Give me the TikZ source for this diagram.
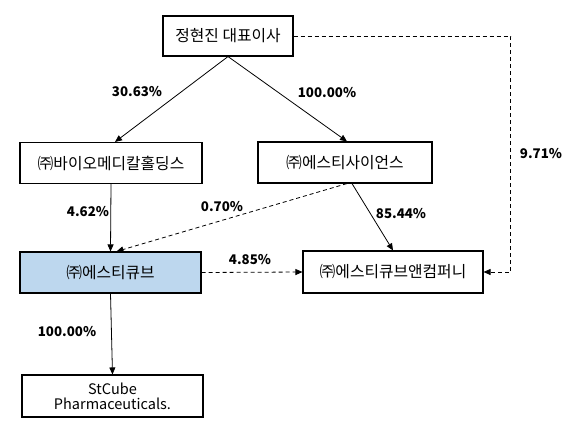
\documentclass[tikz,border=0pt]{standalone}
\usepackage{fontspec}
\setmainfont{Noto Sans CJK KR}
\usetikzlibrary{arrows.meta,calc}
\begin{document}
\begin{tikzpicture}[x=1pt,y=-1pt,
  box/.style={draw=black,line width=1.1pt,minimum width=#1,inner sep=0pt,font=\fontsize{15.8}{18}\selectfont,align=center},
  lbl/.style={font=\bfseries\fontsize{13.3}{15}\selectfont},
  conn/.style={draw=black,line width=0.8pt,-{Triangle[length=7pt,width=6pt]}},
  dconn/.style={conn,dash pattern=on 4pt off 3pt}]
\useasboundingbox[fill=white] (0,0) rectangle (572,431);
\node[box=130pt,minimum height=40pt] (b1) at (228,36) {정현진 대표이사};
\node[box=182pt,minimum height=41pt] (b2) at (111,163) {㈜바이오메디칼홀딩스};
\node[box=174pt,minimum height=41pt] (b3) at (345,162.5) {㈜에스티사이언스};
\node[box=181pt,minimum height=41pt,fill={rgb,255:red,189;green,215;blue,238}] (b4) at (110.5,272.5) {㈜에스티큐브};
\node[box=180pt,minimum height=42pt] (b5) at (393,272) {㈜에스티큐브앤컴퍼니};
\node[box=181pt,minimum height=42pt,font=\fontsize{14.5}{16}\selectfont] (b6) at (112.5,396) {StCube\\[-1pt]Pharmaceuticals.};
\draw[conn] (b1.south) -- ([xshift=4pt]b2.north);
\draw[conn] (b1.south) -- ([xshift=2pt]b3.north);
\draw[conn] (b2.south) -- (b4.north);
\draw[dconn] ([xshift=2pt]b3.south) -- ([xshift=6pt]b4.north);
\draw[conn] ([xshift=7pt]b3.south) -- (b5.north);
\draw[dconn] (b4.east) -- (b5.west);
\draw[dconn] (b1.east) -- ++(217,0) |- (b5.east);
\draw[conn] (b4.south) -- (b6.north);
\node[lbl] (l1) at (137,92) {30.63\%};
\node[lbl] (l2) at (327,93) {100.00\%};
\node[lbl] (l3) at (88,212) {4.62\%};
\node[lbl] (l4) at (222,207) {0.70\%};
\node[lbl] (l5) at (401,214) {85.44\%};
\node[lbl] (l6) at (250,260) {4.85\%};
\node[lbl] (l7) at (541,154) {9.71\%};
\node[lbl] (l8) at (67,332) {100.00\%};
\end{tikzpicture}
\end{document}
